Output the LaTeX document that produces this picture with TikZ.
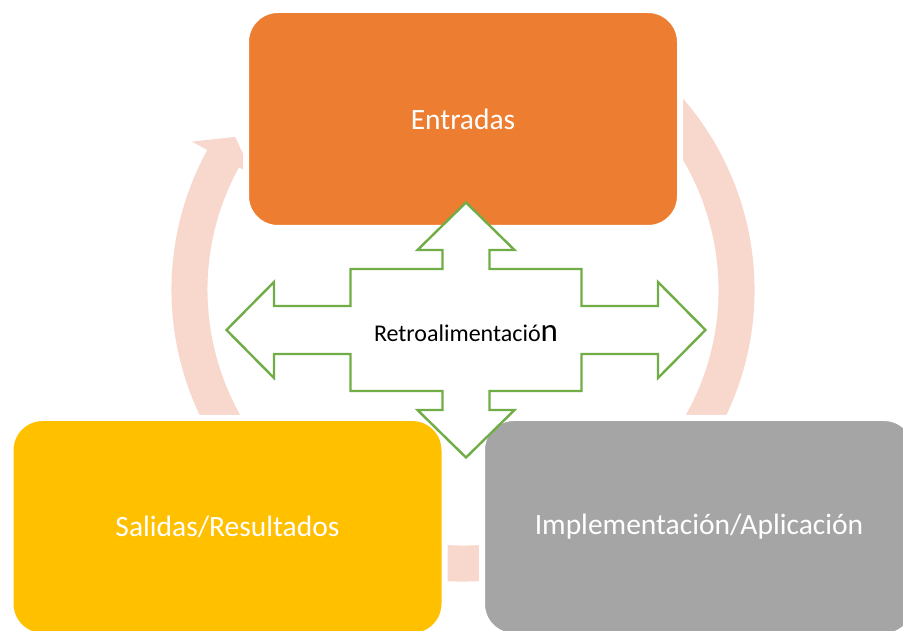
\documentclass[tikz,border=0pt]{standalone}
\usepackage{fontspec}
\setmainfont{Carlito}
\definecolor{ringpink}{RGB}{248,215,205}
\definecolor{boxorange}{HTML}{ED7D31}
\definecolor{boxyellow}{HTML}{FFC000}
\definecolor{boxgray}{HTML}{A5A5A5}
\definecolor{arrowgreen}{HTML}{70AD47}
\tikzset{
  stagebox/.style={rectangle, rounded corners=32pt, draw=white, line width=6pt,
    minimum width=434pt, minimum height=218pt, inner sep=0pt, text=white,
    font=\fontsize{29.5}{33}\selectfont},
  ringline/.style={draw=ringpink, line width=36pt},
  ringhead/.style={fill=ringpink, draw=none},
  quadarrow/.style={fill=white, draw=arrowgreen, line width=2.4pt, line join=miter},
  centerlabel/.style={font=\fontsize{24}{27}\selectfont, text=black, inner sep=0pt}
}
\begin{document}
\begin{tikzpicture}[x=1pt,y=1pt]
\useasboundingbox (0,0) rectangle (903,630);
\clip (0,0) rectangle (903,630);
\fill[white] (0,0) rectangle (903,630);
% ring centre
\coordinate (C) at (463,340);
% ring body (clockwise from under the top box to the arrow head)
\draw[ringline] ([shift={(60:273.5)}]C) arc[start angle=60, end angle=-208.7, radius=273.5pt];
% arrow head
\fill[ringhead] ([shift={(151.3:309)}]C) -- ([shift={(146.1:274.5)}]C) -- ([shift={(151.3:240)}]C) -- cycle;
% stage boxes
\node[stagebox, fill=boxorange] (entradas) at (463,511) {Entradas};
\node[stagebox, fill=boxyellow] (salidas) at (227.5,103) {Salidas/Resultados};
\node[stagebox, fill=boxgray] (impl) at (699,103) {Implementación/Aplicación};
% quad arrow
\begin{scope}[shift={(466,300)}]
\draw[quadarrow] (0,127.5) -- (48.5,80) -- (23.5,80) -- (23.5,61) -- (115.5,61) -- (115.5,24)
  -- (192,24) -- (192,48) -- (239.5,0) -- (192,-48) -- (192,-24) -- (115.5,-24)
  -- (115.5,-61) -- (23.5,-61) -- (23.5,-80) -- (48.5,-80) -- (0,-127.5)
  -- (-48.5,-80) -- (-23.5,-80) -- (-23.5,-61) -- (-115.5,-61) -- (-115.5,-24)
  -- (-192,-24) -- (-192,-48) -- (-239.5,0) -- (-192,48) -- (-192,24) -- (-115.5,24)
  -- (-115.5,61) -- (-23.5,61) -- (-23.5,80) -- (-48.5,80) -- cycle;
\end{scope}
\node[centerlabel, anchor=base] (retro) at (466,288.3) {Retroalimentació{\fontsize{33}{35}\selectfont n}};
\end{tikzpicture}
\end{document}
